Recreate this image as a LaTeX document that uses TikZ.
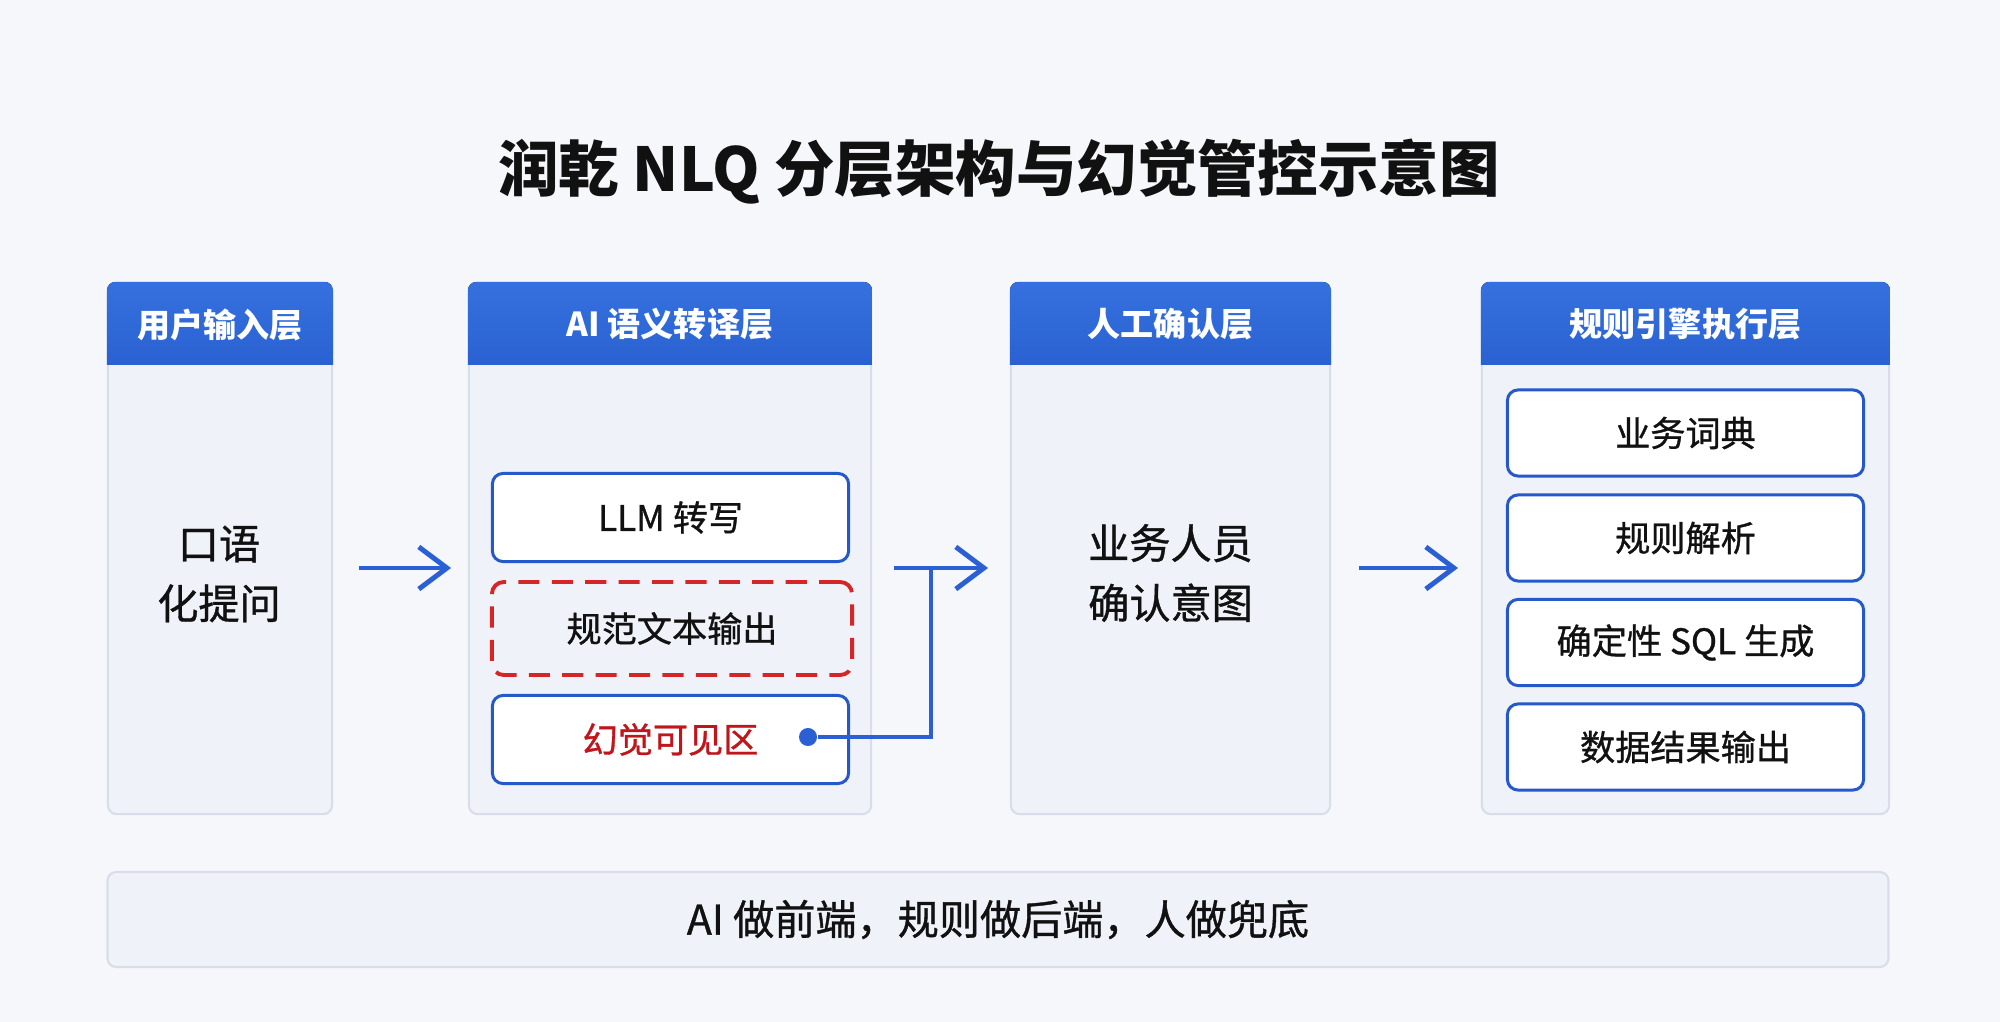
\documentclass[tikz,border=0pt]{standalone}
\usepackage{fontspec}
\setmainfont{Noto Sans CJK SC}
\newfontfamily\midfont{Noto Sans CJK SC}[FakeBold=0.9]
\usetikzlibrary{arrows.meta}
\definecolor{pagebg}{HTML}{F5F7FA}
\definecolor{layerfill}{HTML}{EFF2F8}
\definecolor{layerline}{HTML}{D8DEE9}
\definecolor{headtop}{HTML}{3571DE}
\definecolor{headbot}{HTML}{2A61D2}
\definecolor{boxline}{HTML}{2559C9}
\definecolor{flowblue}{HTML}{2A60D4}
\definecolor{warnred}{HTML}{D42626}
\definecolor{warntext}{HTML}{C0161B}
\definecolor{inktext}{HTML}{111111}

\begin{document}
\begin{tikzpicture}[x=0.01cm, y=-0.01cm]
  \tikzset{
    layer/.style={draw=layerline, line width=0.6pt, fill=layerfill, rounded corners=2.5pt, minimum height=5.31cm, inner sep=0},
    headfill/.style={top color=headtop, bottom color=headbot, draw=none},
    headtext/.style={text=white, font=\fontsize{9.4pt}{11pt}\selectfont\bfseries},
    bigtext/.style={text=inktext, align=center, font=\fontsize{11.7pt}{17pt}\selectfont\midfont},
    stepbox/.style={draw=boxline, line width=0.85pt, fill=white, rounded corners=3pt, minimum width=3.56cm, minimum height=0.88cm, text=inktext, font=\fontsize{10pt}{12pt}\selectfont\midfont},
    warnbox/.style={draw=warnred, line width=1.1pt, dash pattern=on 6pt off 3.5pt, rounded corners=3.4pt, minimum width=3.6cm, minimum height=0.93cm, text=inktext, font=\fontsize{10pt}{12pt}\selectfont\midfont},
    flow/.style={draw=flowblue, line width=1.4pt},
    flowarrow/.style={flow, -{Straight Barb[length=8pt, width=12pt]}}
  }
  \fill[pagebg] (0,0) rectangle (2000,1022);
  \useasboundingbox (0,0) rectangle (2000,1022);

  \node[text=inktext, font=\fontsize{17.2pt}{20pt}\selectfont\bfseries] (title) at (999,172) {润乾 NLQ 分层架构与幻觉管控示意图};

  % layers
  \node[layer, minimum width=2.24cm] (col1) at (220,548.5) {};
  \node[layer, minimum width=4.02cm] (col2) at (670,548.5) {};
  \node[layer, minimum width=3.19cm] (col3) at (1170.5,548.5) {};
  \node[layer, minimum width=4.07cm] (col4) at (1685.5,548.5) {};
  \foreach \c in {col1,col2,col3,col4} {
    \begin{scope}
      \clip[rounded corners=2.5pt] (\c.north west) rectangle (\c.south east);
      \fill[headfill] (\c.north west) rectangle ([yshift=-0.83cm]\c.north east);
    \end{scope}
  }
  \node[headtext] (h1) at (220,324.5) {用户输入层};
  \node[headtext] (h2) at (670,324.5) {AI 语义转译层};
  \node[headtext] (h3) at (1170.5,324.5) {人工确认层};
  \node[headtext] (h4) at (1685.5,324.5) {规则引擎执行层};

  \node[bigtext] (ask) at (219,574) {口语\\化提问};
  \node[bigtext] (confirm) at (1170.5,573) {业务人员\\确认意图};

  % AI layer
  \node[stepbox] (llm) at (670.5,517.5) {LLM 转写};
  \node[warnbox] (norm) at (672,628.5) {规范文本输出};
  \node[stepbox, text=warntext] (halluc) at (670.5,739.5) {幻觉可见区};

  % rule engine
  \node[stepbox, minimum height=0.86cm] (dict) at (1685.5,433) {业务词典};
  \node[stepbox, minimum height=0.86cm] (parse) at (1685.5,538) {规则解析};
  \node[stepbox, minimum height=0.86cm] (sql) at (1685.5,642.5) {确定性 SQL 生成};
  \node[stepbox, minimum height=0.86cm] (result) at (1685.5,747) {数据结果输出};

  \node[draw=layerline, line width=0.6pt, fill=layerfill, rounded corners=2.5pt, minimum width=17.8cm, minimum height=0.95cm, text=inktext, font=\fontsize{11.7pt}{14pt}\selectfont\midfont] (motto) at (998,919.5) {AI 做前端，规则做后端，人做兜底};

  % arrows
  \coordinate (a1s) at (359,568);
  \coordinate (a1e) at (451,568);
  \coordinate (a2s) at (894,568);
  \coordinate (a2e) at (988,568);
  \coordinate (joint) at (931,568);
  \coordinate (a3s) at (1359,568);
  \coordinate (a3e) at (1458,568);
  \node[circle, fill=flowblue, minimum size=0.18cm, inner sep=0] (dot) at (808,737) {};

  \draw[flowarrow] (a1s) -- (a1e);
  \draw[flow] (dot) -| (joint);
  \draw[flowarrow] (a2s) -- (a2e);
  \draw[flowarrow] (a3s) -- (a3e);
\end{tikzpicture}
\end{document}
